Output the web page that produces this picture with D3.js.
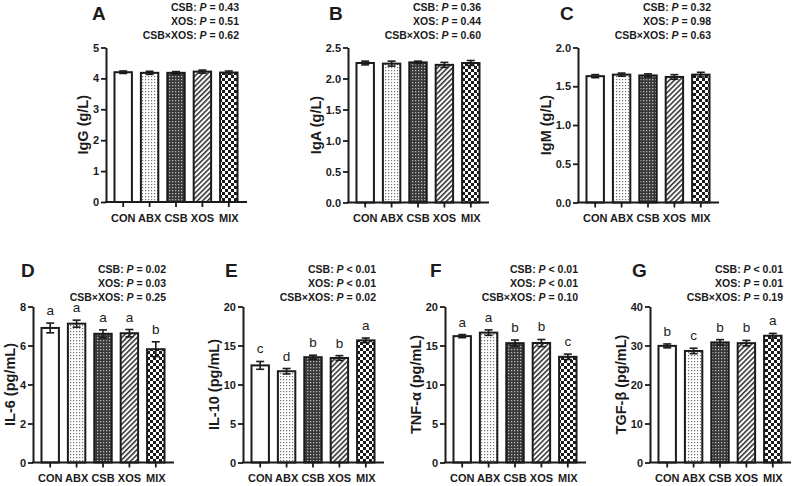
<!DOCTYPE html>
<html>
<head>
<meta charset="utf-8">
<script src="https://cdn.jsdelivr.net/npm/d3@7"></script>
<style>
  body { margin: 0; background: #fff; }
  svg { display: block; font-family: "Liberation Sans", Arial, sans-serif; }
</style>
</head>
<body>
<svg id="chart" width="795" height="486"></svg>
<script>
// groups on the x axis
const groups = ["CON", "ABX", "CSB", "XOS", "MIX"];

// serum immunoglobulins (g/L)
const iggMean = [4.20, 4.18, 4.18, 4.22, 4.19];
const iggSem = [0.04, 0.05, 0.04, 0.05, 0.05];
const igaMean = [2.25, 2.24, 2.26, 2.22, 2.25];
const igaSem = [0.03, 0.04, 0.02, 0.04, 0.04];
const igmMean = [1.63, 1.65, 1.64, 1.62, 1.65];
const igmSem = [0.02, 0.02, 0.02, 0.03, 0.03];

// cytokines (pg/mL)
const il6Mean = [6.90, 7.12, 6.60, 6.63, 5.81];
const il6Sem = [0.25, 0.18, 0.20, 0.19, 0.38];
const il6Letters = ["a", "a", "a", "a", "b"];
const il10Mean = [12.45, 11.70, 13.50, 13.40, 15.66];
const il10Sem = [0.50, 0.35, 0.25, 0.30, 0.30];
const il10Letters = ["c", "d", "b", "b", "a"];
const tnfMean = [16.20, 16.65, 15.30, 15.32, 13.55];
const tnfSem = [0.20, 0.35, 0.40, 0.45, 0.35];
const tnfLetters = ["a", "a", "b", "b", "c"];
const tgfMean = [29.9, 28.6, 30.8, 30.6, 32.5];
const tgfSem = [0.5, 0.7, 0.7, 0.7, 0.6];
const tgfLetters = ["b", "c", "b", "b", "a"];

// two-way ANOVA p values: CSB, XOS, CSB×XOS
const pIgG = ["= 0.43", "= 0.51", "= 0.62"];
const pIgA = ["= 0.36", "= 0.44", "= 0.60"];
const pIgM = ["= 0.32", "= 0.98", "= 0.63"];
const pIL6 = ["= 0.02", "= 0.03", "= 0.25"];
const pIL10 = ["< 0.01", "< 0.01", "= 0.02"];
const pTNF = ["< 0.01", "< 0.01", "= 0.10"];
const pTGF = ["< 0.01", "= 0.01", "= 0.19"];
const pFactors = ["CSB: ", "XOS: ", "CSB×XOS: "];

// y axis ticks
const ticksIgG = [0, 1, 2, 3, 4, 5];
const ticksIgA = [0, 0.5, 1.0, 1.5, 2.0, 2.5];
const ticksIgM = [0, 0.5, 1.0, 1.5, 2.0];
const ticksIL6 = [0, 2, 4, 6, 8];
const ticksIL10 = [0, 5, 10, 15, 20];
const ticksTNF = [0, 5, 10, 15, 20];
const ticksTGF = [0, 10, 20, 30, 40];

const ink = "#1b1b1b";
const svg = d3.select("#chart");

// fill patterns per group
const defs = svg.append("defs");
let p = defs.append("pattern").attr("id", "pat-ABX").attr("patternUnits", "userSpaceOnUse")
  .attr("width", 3).attr("height", 3);
p.append("rect").attr("width", 3).attr("height", 3).attr("fill", "#fff");
p.append("rect").attr("x", 1).attr("y", 1).attr("width", 1.2).attr("height", 1.2).attr("fill", "#707070");

p = defs.append("pattern").attr("id", "pat-CSB").attr("patternUnits", "userSpaceOnUse")
  .attr("width", 3).attr("height", 3);
p.append("rect").attr("width", 3).attr("height", 3).attr("fill", "#383838");
p.append("rect").attr("x", 1).attr("y", 1).attr("width", 1.3).attr("height", 1.3).attr("fill", "#b8b8b8");

p = defs.append("pattern").attr("id", "pat-XOS").attr("patternUnits", "userSpaceOnUse")
  .attr("width", 3.6).attr("height", 4).attr("patternTransform", "rotate(45)");
p.append("rect").attr("width", 3.6).attr("height", 4).attr("fill", "#fff");
p.append("line").attr("x1", 0.8).attr("x2", 0.8).attr("y1", 0).attr("y2", 4)
  .attr("stroke", ink).attr("stroke-width", 1.4);

p = defs.append("pattern").attr("id", "pat-MIX").attr("patternUnits", "userSpaceOnUse")
  .attr("width", 6).attr("height", 6);
p.append("rect").attr("width", 6).attr("height", 6).attr("fill", "#fff");
p.append("rect").attr("width", 3).attr("height", 3).attr("fill", ink);
p.append("rect").attr("x", 3).attr("y", 3).attr("width", 3).attr("height", 3).attr("fill", ink);

function fillFor(g) {
  return g === "CON" ? "#fff" : "url(#pat-" + g + ")";
}

const panels = [
  { id: "A", title: "IgG (g/L)", mean: iggMean, sem: iggSem, letters: null, p: pIgG, ticks: ticksIgG, fmt: "d",
    x0: 106, yTop: 47.5, yBot: 202, letterX: 92, letterY: 19.5, pY: [11, 25, 39] },
  { id: "B", title: "IgA (g/L)", mean: igaMean, sem: igaSem, letters: null, p: pIgA, ticks: ticksIgA, fmt: ".1f",
    x0: 348, yTop: 47.5, yBot: 202.5, letterX: 329, letterY: 19.5, pY: [11, 25, 39] },
  { id: "C", title: "IgM (g/L)", mean: igmMean, sem: igmSem, letters: null, p: pIgM, ticks: ticksIgM, fmt: ".1f",
    x0: 578, yTop: 47.5, yBot: 202.5, letterX: 560, letterY: 19.5, pY: [11, 25, 39] },
  { id: "D", title: "IL-6 (pg/mL)", mean: il6Mean, sem: il6Sem, letters: il6Letters, p: pIL6, ticks: ticksIL6, fmt: "d",
    x0: 33, yTop: 306.5, yBot: 462.5, letterX: 21, letterY: 277, pY: [273, 287, 300.5] },
  { id: "E", title: "IL-10 (pg/mL)", mean: il10Mean, sem: il10Sem, letters: il10Letters, p: pIL10, ticks: ticksIL10, fmt: "d",
    x0: 243, yTop: 306.5, yBot: 462.5, letterX: 225, letterY: 277, pY: [273, 287, 300.5] },
  { id: "F", title: "TNF-α (pg/mL)", mean: tnfMean, sem: tnfSem, letters: tnfLetters, p: pTNF, ticks: ticksTNF, fmt: "d",
    x0: 445, yTop: 306.5, yBot: 462.5, letterX: 430, letterY: 277, pY: [273, 287, 300.5] },
  { id: "G", title: "TGF-β (pg/mL)", mean: tgfMean, sem: tgfSem, letters: tgfLetters, p: pTGF, ticks: ticksTGF, fmt: "d",
    x0: 650, yTop: 306.5, yBot: 462.5, letterX: 632, letterY: 277, pY: [273, 287, 300.5] }
];

const axisLen = 141;

panels.forEach(function (cfg) {
  const g = svg.append("g").attr("class", "panel-" + cfg.id);
  const data = groups.map((k, i) => ({ group: k, mean: cfg.mean[i], sem: cfg.sem[i],
    letter: cfg.letters ? cfg.letters[i] : null }));

  const x = d3.scaleBand().domain(groups)
    .range([cfg.x0 + 4, cfg.x0 + 136]).paddingInner(0.34).paddingOuter(0.17);
  const y = d3.scaleLinear().domain([0, d3.max(cfg.ticks)]).range([cfg.yBot, cfg.yTop]);

  // bars
  g.append("g").selectAll("rect").data(data).enter().append("rect")
    .attr("x", d => x(d.group))
    .attr("y", d => y(d.mean))
    .attr("width", x.bandwidth())
    .attr("height", d => y(0) - y(d.mean))
    .attr("fill", d => fillFor(d.group))
    .attr("stroke", ink)
    .attr("stroke-width", 2);

  // error bars (mean ± SEM)
  const eb = g.append("g").selectAll("g").data(data).enter().append("g")
    .attr("stroke", ink).attr("stroke-width", 1.6);
  eb.append("line")
    .attr("x1", d => x(d.group) + x.bandwidth() / 2)
    .attr("x2", d => x(d.group) + x.bandwidth() / 2)
    .attr("y1", d => y(d.mean - d.sem))
    .attr("y2", d => y(d.mean + d.sem));
  eb.append("line")
    .attr("x1", d => x(d.group) + x.bandwidth() / 2 - 4)
    .attr("x2", d => x(d.group) + x.bandwidth() / 2 + 4)
    .attr("y1", d => y(d.mean + d.sem))
    .attr("y2", d => y(d.mean + d.sem));
  eb.append("line")
    .attr("x1", d => x(d.group) + x.bandwidth() / 2 - 4)
    .attr("x2", d => x(d.group) + x.bandwidth() / 2 + 4)
    .attr("y1", d => y(d.mean - d.sem))
    .attr("y2", d => y(d.mean - d.sem));

  // significance letters
  if (cfg.letters) {
    g.append("g").selectAll("text").data(data).enter().append("text")
      .attr("x", d => x(d.group) + x.bandwidth() / 2)
      .attr("y", d => y(d.mean + d.sem) - 8)
      .attr("text-anchor", "middle")
      .style("font-size", "13.5px")
      .attr("fill", ink)
      .text(d => d.letter);
  }

  // y axis
  const yAxis = g.append("g").attr("transform", "translate(" + cfg.x0 + ",0)")
    .call(d3.axisLeft(y).tickValues(cfg.ticks).tickFormat(d3.format(cfg.fmt))
      .tickSize(5).tickSizeOuter(0).tickPadding(2));
  yAxis.select(".domain").attr("stroke", ink).attr("stroke-width", 2);
  yAxis.selectAll(".tick line").attr("stroke", ink).attr("stroke-width", 1.8);
  yAxis.selectAll(".tick text").attr("fill", ink)
    .style("font-size", "11px").style("font-weight", "bold");

  // x axis
  const xAxis = g.append("g").attr("transform", "translate(0," + cfg.yBot + ")")
    .call(d3.axisBottom(x).tickSize(5).tickSizeOuter(0).tickPadding(7));
  xAxis.select(".domain").remove();
  xAxis.append("line").attr("x1", cfg.x0 - 1).attr("x2", cfg.x0 + axisLen)
    .attr("stroke", ink).attr("stroke-width", 2);
  xAxis.selectAll(".tick line").attr("stroke", ink).attr("stroke-width", 1.8);
  xAxis.selectAll(".tick text").attr("fill", ink)
    .style("font-size", "11px").style("font-weight", "bold");

  // y title, placed left of the tick labels (bbox is in the axis group's local coords)
  const lblBox = yAxis.node().getBBox();
  const titleX = cfg.x0 + lblBox.x - 4.5;
  g.append("text")
    .attr("transform", "translate(" + titleX + "," + (cfg.yTop + cfg.yBot) / 2 + ") rotate(-90)")
    .attr("text-anchor", "middle")
    .style("font-size", "14.5px").style("font-weight", "bold")
    .attr("fill", ink)
    .text(cfg.title);

  // panel letter
  g.append("text")
    .attr("x", cfg.letterX).attr("y", cfg.letterY)
    .style("font-size", "19px").style("font-weight", "bold")
    .attr("fill", ink)
    .text(cfg.id);

  // p values
  cfg.p.forEach(function (val, i) {
    const t = g.append("text")
      .attr("x", cfg.x0 + axisLen - 8).attr("y", cfg.pY[i])
      .attr("text-anchor", "end")
      .style("font-size", "10.5px").style("font-weight", "bold")
      .attr("fill", ink);
    t.append("tspan").text(pFactors[i]);
    t.append("tspan").style("font-style", "italic").text("P");
    t.append("tspan").text(" " + val);
  });
});
</script>
</body>
</html>
